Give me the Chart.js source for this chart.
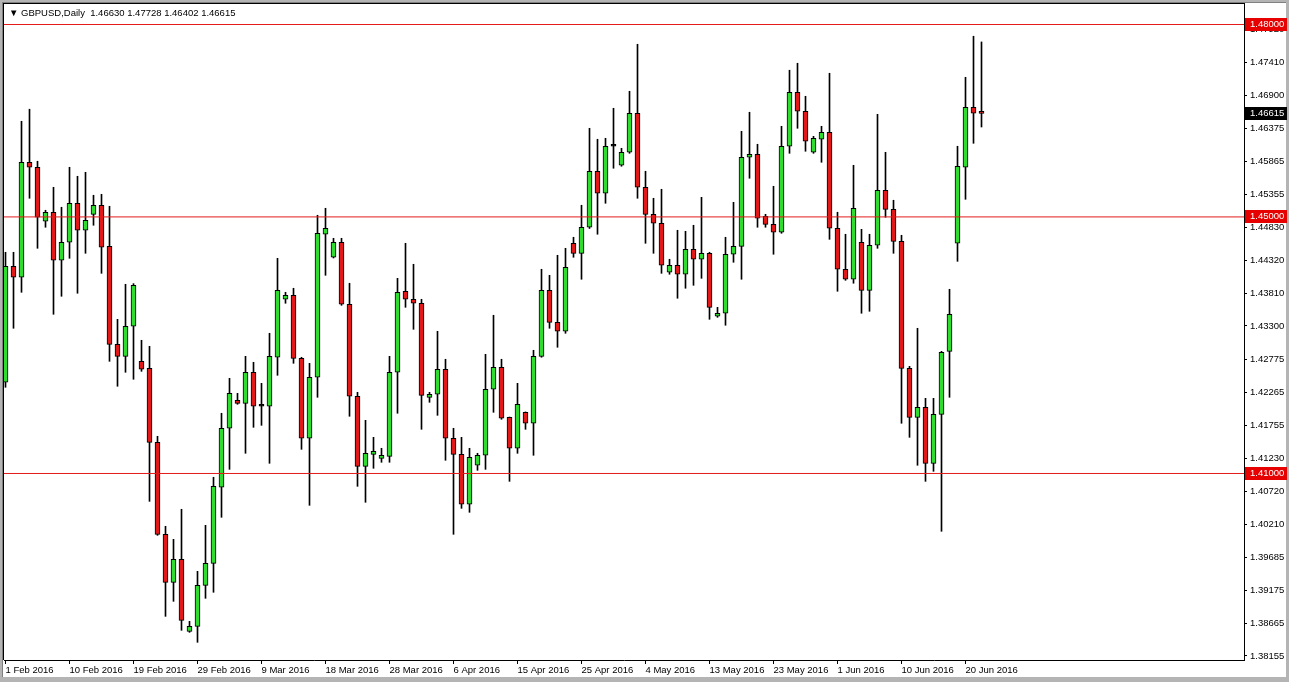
<!DOCTYPE html>
<html><head><meta charset="utf-8">
<script src="https://cdn.jsdelivr.net/npm/chart.js@4.4.1/dist/chart.umd.min.js"></script>
<style>
html,body{margin:0;padding:0;background:#fff;overflow:hidden}
#wrap{position:relative;width:1289px;height:682px}
canvas{position:absolute;left:0;top:0}
#hdr{position:absolute;left:9px;top:7px;font:9.5px "Liberation Sans",Arial,sans-serif;color:#000;white-space:pre;line-height:11px}
</style></head><body>
<div id="wrap"><canvas id="c" width="1289" height="682"></canvas><div id="hdr">▼ GBPUSD,Daily  1.46630 1.47728 1.46402 1.46615</div></div>
<script>
const categories = [
"1 Feb 2016","2 Feb 2016","3 Feb 2016","4 Feb 2016","5 Feb 2016",
"7 Feb 2016","8 Feb 2016","9 Feb 2016","10 Feb 2016","11 Feb 2016","12 Feb 2016",
"14 Feb 2016","15 Feb 2016","16 Feb 2016","17 Feb 2016","18 Feb 2016","19 Feb 2016",
"21 Feb 2016","22 Feb 2016","23 Feb 2016","24 Feb 2016","25 Feb 2016","26 Feb 2016",
"28 Feb 2016","29 Feb 2016","1 Mar 2016","2 Mar 2016","3 Mar 2016","4 Mar 2016",
"6 Mar 2016","7 Mar 2016","8 Mar 2016","9 Mar 2016","10 Mar 2016","11 Mar 2016",
"13 Mar 2016","14 Mar 2016","15 Mar 2016","16 Mar 2016","17 Mar 2016","18 Mar 2016",
"20 Mar 2016","21 Mar 2016","22 Mar 2016","23 Mar 2016","24 Mar 2016","25 Mar 2016",
"27 Mar 2016","28 Mar 2016","29 Mar 2016","30 Mar 2016","31 Mar 2016","1 Apr 2016",
"3 Apr 2016","4 Apr 2016","5 Apr 2016","6 Apr 2016","7 Apr 2016","8 Apr 2016",
"10 Apr 2016","11 Apr 2016","12 Apr 2016","13 Apr 2016","14 Apr 2016","15 Apr 2016",
"17 Apr 2016","18 Apr 2016","19 Apr 2016","20 Apr 2016","21 Apr 2016","22 Apr 2016",
"24 Apr 2016","25 Apr 2016","26 Apr 2016","27 Apr 2016","28 Apr 2016","29 Apr 2016",
"1 May 2016","2 May 2016","3 May 2016","4 May 2016","5 May 2016","6 May 2016",
"8 May 2016","9 May 2016","10 May 2016","11 May 2016","12 May 2016","13 May 2016",
"15 May 2016","16 May 2016","17 May 2016","18 May 2016","19 May 2016","20 May 2016",
"22 May 2016","23 May 2016","24 May 2016","25 May 2016","26 May 2016","27 May 2016",
"29 May 2016","30 May 2016","31 May 2016","1 Jun 2016","2 Jun 2016","3 Jun 2016",
"5 Jun 2016","6 Jun 2016","7 Jun 2016","8 Jun 2016","9 Jun 2016","10 Jun 2016",
"12 Jun 2016","13 Jun 2016","14 Jun 2016","15 Jun 2016","16 Jun 2016","17 Jun 2016",
"19 Jun 2016","20 Jun 2016","21 Jun 2016","22 Jun 2016"
];
const open = [
1.42422,1.44231,1.44059,1.45852,1.45774,1.44932,1.45073,1.44324,1.44605,1.45213,
1.44792,1.45041,1.45182,1.44542,1.43014,1.42827,1.43295,1.42749,1.42640,1.41486,
1.40052,1.39303,1.39662,1.38539,1.38617,1.39257,1.39600,1.40785,1.41705,1.42141,
1.42094,1.42578,1.42048,1.42048,1.42812,1.43716,1.43778,1.42796,1.41549,1.42500,
1.44730,1.44371,1.44605,1.43638,1.42204,1.41112,1.41299,1.41237,1.41268,1.42578,
1.43841,1.43716,1.43654,1.42188,1.42235,1.42625,1.41549,1.41299,1.40520,1.41128,
1.41284,1.42313,1.42656,1.41876,1.41393,1.41954,1.41783,1.42827,1.43856,1.43357,
1.43217,1.44589,1.44433,1.44839,1.45712,1.45369,1.46102,1.45805,1.46008,1.46616,
1.45462,1.45041,1.44901,1.44137,1.44246,1.44106,1.44496,1.44340,1.44433,1.43451,
1.43498,1.44418,1.44542,1.45930,1.45977,1.45010,1.44885,1.44761,1.46102,1.46944,
1.46647,1.46008,1.46211,1.46320,1.44823,1.44184,1.44028,1.44605,1.43856,1.44558,
1.45416,1.45119,1.44620,1.42640,1.41876,1.42032,1.41159,1.41923,1.42905,1.44589,
1.45774,1.46710,1.46630
];
const high = [
1.44449,1.44449,1.46491,1.46679,1.45868,1.45104,1.45462,1.45151,1.45774,1.45634,
1.45696,1.45338,1.45353,1.45166,1.43404,1.43950,1.43960,1.43077,1.42983,1.41580,
1.40177,1.39974,1.40442,1.38695,1.39475,1.40192,1.40941,1.41939,1.42484,1.42250,
1.42827,1.42734,1.42406,1.43186,1.44355,1.43825,1.43888,1.42812,1.42718,1.45026,
1.45135,1.44667,1.44667,1.43966,1.42266,1.41829,1.41564,1.41393,1.42827,1.44043,
1.44589,1.44262,1.43716,1.42266,1.43217,1.42781,1.41705,1.41564,1.41393,1.41315,
1.42858,1.43467,1.42781,1.41880,1.42406,1.41960,1.42921,1.44184,1.44090,1.44402,
1.44511,1.44683,1.45182,1.46382,1.46211,1.46226,1.46694,1.46070,1.46959,1.47692,
1.45712,1.45291,1.45431,1.44340,1.44792,1.44776,1.44870,1.45306,1.44449,1.43591,
1.44683,1.45228,1.46335,1.46632,1.46133,1.45041,1.45478,1.46413,1.47287,1.47396,
1.46881,1.46257,1.46413,1.47240,1.45073,1.44730,1.45805,1.44807,1.44730,1.46600,
1.46008,1.45260,1.44714,1.42671,1.43264,1.42172,1.42172,1.42905,1.43872,1.46102,
1.47177,1.47817,1.47728
];
const low = [
1.42344,1.43264,1.43825,1.45291,1.44511,1.44839,1.43482,1.43763,1.44355,1.43810,
1.44433,1.44870,1.44121,1.42749,1.42360,1.42578,1.42469,1.42593,1.40566,1.40036,
1.38773,1.39007,1.38555,1.38524,1.38368,1.39054,1.39148,1.40317,1.41065,1.42079,
1.41315,1.41720,1.41751,1.41159,1.42531,1.43654,1.42718,1.41377,1.40504,1.42188,
1.44090,1.44360,1.43622,1.41892,1.40800,1.40551,1.41081,1.41175,1.41175,1.41939,
1.43591,1.43248,1.41689,1.42110,1.41907,1.41206,1.40052,1.40457,1.40395,1.41050,
1.41065,1.41954,1.41845,1.40878,1.41315,1.41689,1.41284,1.42812,1.43264,1.42968,
1.43186,1.44371,1.44028,1.44820,1.44730,1.45213,1.45759,1.45790,1.45992,1.45291,
1.44589,1.44433,1.44121,1.44106,1.43732,1.43888,1.43934,1.44043,1.43404,1.43435,
1.43311,1.44293,1.44028,1.45603,1.44839,1.44839,1.44418,1.44745,1.45992,1.46382,
1.46024,1.45992,1.45852,1.44651,1.43841,1.44012,1.43966,1.43498,1.43529,1.44511,
1.44995,1.44433,1.41783,1.41564,1.41128,1.40878,1.41034,1.40099,1.42188,1.44308,
1.45275,1.46148,1.46402
];
const close = [
1.44231,1.44059,1.45852,1.45774,1.44995,1.45073,1.44324,1.44605,1.45213,1.44792,
1.44948,1.45182,1.44527,1.43014,1.42827,1.43295,1.43934,1.42625,1.41486,1.40052,
1.39303,1.39662,1.38711,1.38617,1.39257,1.39600,1.40800,1.41705,1.42250,1.42094,
1.42578,1.42048,1.42048,1.42827,1.43856,1.43778,1.42796,1.41549,1.42500,1.44745,
1.44823,1.44605,1.43638,1.42204,1.41112,1.41315,1.41346,1.41284,1.42578,1.43825,
1.43716,1.43654,1.42219,1.42235,1.42625,1.41549,1.41299,1.40520,1.41253,1.41284,
1.42313,1.42656,1.41861,1.41393,1.42079,1.41783,1.42827,1.43856,1.43357,1.43217,
1.44215,1.44433,1.44839,1.45712,1.45369,1.46102,1.46102,1.46008,1.46616,1.45462,
1.45041,1.44901,1.44246,1.44246,1.44106,1.44496,1.44340,1.44433,1.43591,1.43498,
1.44418,1.44542,1.45930,1.45977,1.44979,1.44885,1.44761,1.46102,1.46944,1.46647,
1.46180,1.46226,1.46320,1.44823,1.44184,1.44028,1.45135,1.43856,1.44558,1.45416,
1.45119,1.44620,1.42640,1.41876,1.42032,1.41159,1.41923,1.42890,1.43482,1.45790,
1.46710,1.46616,1.46615
];
const levels = [1.48000, 1.45000, 1.41000];
const lastPrice = 1.46615;
const yTickValues = [1.47920,1.47410,1.46900,1.46375,1.45865,1.45355,1.44830,1.44320,1.43810,1.43300,
  1.42775,1.42265,1.41755,1.41230,1.40720,1.40210,1.39685,1.39175,1.38665,1.38155];
const xTickIndex = [0,8,16,24,32,40,48,56,64,72,80,88,96,104,112,120];

const X_MIN = -0.1875, X_MAX = 154.8125;
const Y_MIN = 1.380924, Y_MAX = 1.483352;
const FONT = {family: '"Liberation Sans", Arial, sans-serif', size: 9.5};
const GREEN = '#2fdc2f', RED = '#e31818', LINE_RED = '#e31b1b';

const bodyColors = open.map((o, i) => close[i] > o ? GREEN : (close[i] < o ? RED : '#000'));

const framePlugin = {
  id: 'frame',
  beforeDraw(chart) {
    const ctx = chart.ctx;
    ctx.save();
    ctx.fillStyle = '#fff'; ctx.fillRect(0, 0, 1289, 682);
    ctx.fillStyle = '#b4b4b4';
    ctx.fillRect(0, 0, 1289, 2);
    ctx.fillRect(0, 0, 2, 682);
    ctx.fillRect(1286, 0, 3, 682);
    ctx.fillRect(0, 677, 1289, 5);
    ctx.fillStyle = '#808080';
    ctx.fillRect(2, 2, 1, 675);
    ctx.fillRect(2, 2, 1284, 1);
    ctx.restore();
  },
  afterDraw(chart) {
    const {ctx, chartArea: a, scales: {y}} = chart;
    ctx.save();
    ctx.fillStyle = '#000';
    ctx.fillRect(a.left - 1, a.top, 1, a.bottom - a.top);
    ctx.fillRect(a.left - 1, a.top, a.right - a.left + 1, 1);
    ctx.font = '9.5px "Liberation Sans", Arial, sans-serif';
    ctx.textBaseline = 'middle';
    ctx.textAlign = 'left';
    const box = (v, bg) => {
      const py = Math.floor(y.getPixelForValue(v));
      ctx.fillStyle = bg;
      ctx.fillRect(a.right + 1, py - 6, 42, 13);
      ctx.fillStyle = '#fff';
      ctx.fillText(v.toFixed(5), a.right + 6, py + 0.5);
    };
    levels.forEach(v => box(v, '#e60000'));
    box(lastPrice, '#000');
    ctx.restore();
  }
};

const levelSets = levels.map(v => ({
  type: 'line',
  data: [{x: X_MIN, y: v}, {x: X_MAX, y: v}],
  borderColor: LINE_RED,
  borderWidth: 1,
  pointRadius: 0,
  fill: false,
  order: 0
}));

new Chart(document.getElementById('c'), {
  type: 'bar',
  data: {
    datasets: [
      ...levelSets,
      {
        type: 'bar',
        data: categories.map((_, i) => ({x: i, y: [open[i], close[i]]})),
        backgroundColor: bodyColors,
        borderColor: '#000',
        borderWidth: 1,
        borderSkipped: false,
        barThickness: 5,
        minBarLength: 2,
        grouped: false,
        order: 1
      },
      {
        type: 'bar',
        data: categories.map((_, i) => ({x: i, y: [low[i], high[i]]})),
        backgroundColor: '#000',
        borderWidth: 0,
        barThickness: 1,
        grouped: false,
        order: 2
      }
    ]
  },
  options: {
    responsive: false,
    animation: false,
    devicePixelRatio: 1,
    events: [],
    layout: {padding: {left: 4, top: 3, right: 0, bottom: 0}},
    plugins: {legend: {display: false}, tooltip: {enabled: false}, title: {display: false}},
    scales: {
      x: {
        type: 'linear',
        min: X_MIN, max: X_MAX,
        bounds: 'data',
        offset: false,
        grid: {display: true, drawOnChartArea: false, drawTicks: true, tickLength: 4, color: '#000', offset: false},
        border: {display: true, color: '#000', width: 1},
        ticks: {
          font: FONT, color: '#000', align: 'start', autoSkip: false, maxRotation: 0, padding: 1,
          callback: (v) => categories[v] !== undefined ? categories[v] : ''
        },
        afterBuildTicks: (s) => { s.ticks = xTickIndex.map(v => ({value: v})); },
        afterFit: (s) => { s.height = 22; s.paddingLeft = 0; s.paddingRight = 0; }
      },
      y: {
        type: 'linear',
        position: 'right',
        min: Y_MIN, max: Y_MAX,
        bounds: 'data',
        beginAtZero: false,
        grid: {display: true, drawOnChartArea: false, drawTicks: true, tickLength: 3, color: '#000'},
        border: {display: true, color: '#000', width: 1},
        ticks: {
          font: FONT, color: '#000', padding: 3, autoSkip: false,
          callback: (v) => Number(v).toFixed(5)
        },
        afterBuildTicks: (s) => { s.ticks = yTickValues.map(v => ({value: v})); },
        afterFit: (s) => { s.width = 45; s.paddingTop = 0; s.paddingBottom = 0; }
      }
    }
  },
  plugins: [framePlugin]
});
</script>
</body></html>
